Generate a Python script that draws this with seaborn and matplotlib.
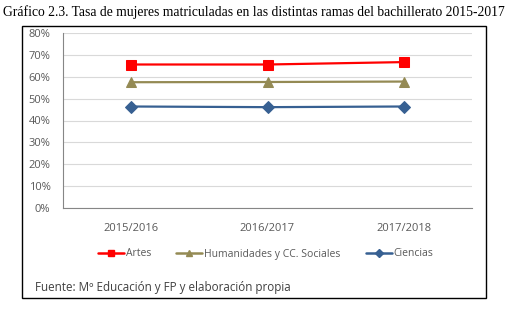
import matplotlib
matplotlib.use("Agg")
import matplotlib.pyplot as plt
import seaborn as sns
import pandas as pd
from matplotlib.patches import Rectangle
from matplotlib.lines import Line2D
from matplotlib.ticker import PercentFormatter

years = ["2015/2016", "2016/2017", "2017/2018"]
artes = [0.656, 0.656, 0.667]
humanidades = [0.575, 0.576, 0.578]
ciencias = [0.464, 0.461, 0.464]
series_names = ["Artes", "Humanidades y CC. Sociales", "Ciencias"]
yticks = [0, 0.1, 0.2, 0.3, 0.4, 0.5, 0.6, 0.7, 0.8]

colors = ["#FF0000", "#948A54", "#376092"]
markers = ["s", "^", "D"]
msizes = [7, 7.5, 6]

sns.set_theme(style="white")
plt.rcParams['font.family'] = ['Open Sans', 'DejaVu Sans']

fig = plt.figure(figsize=(5.06, 3.09), dpi=100)
ax = fig.add_axes([63/506, 1-208/309, (472-63)/506, (208-33)/309])

df = pd.DataFrame({
    "year": years * 3,
    "x": [0, 1, 2] * 3,
    "value": artes + humanidades + ciencias,
    "serie": [series_names[0]] * 3 + [series_names[1]] * 3 + [series_names[2]] * 3,
})

for name, c, m, ms in zip(series_names, colors, markers, msizes):
    sub = df[df["serie"] == name]
    sns.lineplot(data=sub, x="x", y="value", ax=ax, color=c, marker=m,
                 markersize=ms, markeredgecolor=c, linewidth=1.6, legend=False)

ax.set_xlim(-0.5, 2.5)
ax.set_ylim(0, 0.8)
ax.set_xticks([0, 1, 2])
ax.set_xticklabels(years)
ax.set_yticks(yticks)
ax.yaxis.set_major_formatter(PercentFormatter(1.0, decimals=0))
ax.set_xlabel("")
ax.set_ylabel("")
ax.grid(axis="y", color="#D9D9D9", linewidth=0.8)
ax.set_axisbelow(True)
for s in ["top", "right"]:
    ax.spines[s].set_visible(False)
for s in ["left", "bottom"]:
    ax.spines[s].set_color("#868686")
    ax.spines[s].set_linewidth(0.8)
ax.tick_params(axis="both", length=0, labelsize=8, labelcolor="#595959")
ax.tick_params(axis="x", pad=11)
ax.tick_params(axis="y", pad=9)

handles = [Line2D([0], [0], color=c, marker=m, markersize=4.5, linewidth=1.8,
                  markeredgecolor=c) for c, m in zip(colors, markers)]
fig.legend(handles, series_names, loc="center", bbox_to_anchor=(0.525, 1 - 254/309),
           ncol=3, frameon=False, fontsize=7.5, labelcolor="#595959",
           handlelength=2.5, handletextpad=0.2, columnspacing=2.4)

fig.text(35/506, 1 - 288/309, "Fuente: Mº Educación y FP y elaboración propia",
         fontsize=8.4, color="#404040", va="center", ha="left")

fig.text(3/506, 1 - 12/309,
         "Gráfico 2.3. Tasa de mujeres matriculadas en las distintas ramas del bachillerato 2015-2017",
         fontsize=9.8, family=["Liberation Serif", "DejaVu Serif"], color="black",
         va="center", ha="left")

fig.patches.append(Rectangle((22/506, 1 - 298/309), (486 - 22)/506, (298 - 26)/309,
                             transform=fig.transFigure, fill=False,
                             edgecolor="black", linewidth=1.0))

fig.savefig("out.png", dpi=100)
